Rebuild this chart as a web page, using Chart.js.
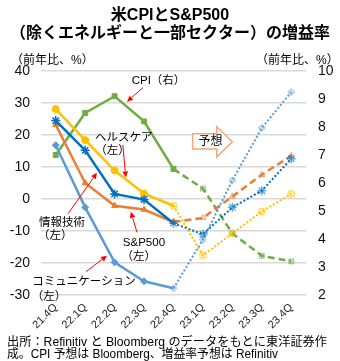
<!DOCTYPE html>
<html><head><meta charset="utf-8">
<script src="https://cdn.jsdelivr.net/npm/chart.js@4/dist/chart.umd.min.js"></script>
<style>html,body{margin:0;padding:0;background:#fff}canvas{display:block}</style>
</head><body>
<canvas id="c" width="340" height="361"></canvas>
<script>
// ---- data ----
const categories = ['21.4Q','22.1Q','22.2Q','22.3Q','22.4Q','23.1Q','23.2Q','23.3Q','23.4Q'];
const cpi           = [7.0, 8.5, 9.1, 8.2, 6.5, 5.8, 4.2, 3.4, 3.2];
const healthcare    = [28.1, 18.4, 8.9, 1.7, -2.1, -17.6, -10.7, -3.9, 1.6];
const infoTech      = [24.5, 15.2, 1.6, -0.2, -7.6, -11.0, -2.6, 2.6, 12.6];
const sp500         = [23.2, 5.0, -2.1, -3.3, -7.2, -5.9, 0.8, 7.6, 13.5];
const communication = [16.8, -2.6, -19.8, -25.7, -27.9, -12.7, 5.8, 22.2, 33.4];
const leftAxis  = [-30, 40, 10];   // min, max, step
const rightAxis = [2, 10, 1];
const forecastStart = 4;           // segments after this index are forecasts

const FONT = '"Liberation Sans", Arial, "Noto Sans CJK JP", sans-serif';
const JFONT = '"Liberation Sans", "Noto Sans CJK JP", sans-serif';

function pale(hex, a) {
  const n = parseInt(hex.slice(1), 16);
  return `rgba(${n>>16},${(n>>8)&255},${n&255},${a})`;
}
function series(label, data, color, axis, style, dash, width, radius, paleFrom) {
  return {
    label, data, yAxisID: axis,
    borderColor: color, borderWidth: width,
    pointStyle: style, pointRadius: radius, pointHoverRadius: radius,
    pointBackgroundColor: c => c.dataIndex >= paleFrom ? pale(color, 0.3) : color,
    pointBorderColor: c => c.dataIndex >= paleFrom ? pale(color, 0.6) : color,
    pointBorderWidth: style === 'star' ? 1.5 : 1,
    tension: 0, fill: false,
    segment: {
      borderDash: c => c.p0DataIndex >= forecastStart ? dash : undefined,
      borderWidth: c => c.p0DataIndex >= forecastStart ? (dash[0] > 3 ? 2.5 : 2) : width
    }
  };
}

const decor = {
  id: 'decor',
  afterDraw(chart) {
    const ctx = chart.ctx, xs = chart.scales.x, ys = chart.scales.y;
    const P = (i, v) => [xs.getPixelForValue(i), ys.getPixelForValue(v)];
    ctx.save();
    ctx.fillStyle = '#000';
    ctx.textBaseline = 'middle';
    // title
    ctx.font = 'bold 16px ' + JFONT;
    ctx.textAlign = 'center';
    ctx.fillText('米CPIとS&P500', 170, 16);
    ctx.fillText('（除くエネルギーと一部セクター）の増益率', 170, 34);
    // axis titles
    ctx.font = '12px ' + JFONT;
    ctx.textAlign = 'left';
    ctx.fillText('（前年比、%）', 11, 61);
    ctx.fillText('（前年比、%）', 256, 61);
    // footer
    const foot = [['出所：Refinitiv と Bloomberg のデータをもとに東洋証券作', 342.5, 320],
                  ['成。CPI 予想は Bloomberg、増益率予想は Refinitiv', 355, 271]];
    foot.forEach(([t, y, w]) => {
      const m = ctx.measureText(t).width;
      ctx.save();
      ctx.translate(7, y);
      ctx.scale(w / m, 1);
      ctx.fillText(t, 0, 0);
      ctx.restore();
    });
    // forecast arrow box
    const [rl, rt] = P(4.65, 20.4), [hl, rb] = P(5.47, 15.6);
    const [, ht] = P(0, 22.6), [, hb] = P(0, 13.1), [tip, my] = P(6.0, 17.9);
    ctx.beginPath();
    ctx.moveTo(rl, rt); ctx.lineTo(hl, rt); ctx.lineTo(hl, ht); ctx.lineTo(tip, my);
    ctx.lineTo(hl, hb); ctx.lineTo(hl, rb); ctx.lineTo(rl, rb); ctx.closePath();
    ctx.fillStyle = '#fff'; ctx.fill();
    ctx.strokeStyle = '#f4a67a'; ctx.lineWidth = 1.5; ctx.stroke();
    ctx.fillStyle = '#000';
    ctx.font = '12px ' + JFONT;
    ctx.textAlign = 'center';
    const [tx, ty] = P(5.26, 17.9);
    ctx.fillText('予想', tx, ty);
    // annotations
    ctx.font = '11.5px ' + JFONT;
    ctx.textAlign = 'left';
    const labels = [
      ['CPI（右）', 2.58, 37.0],
      ['ヘルスケア', 1.33, 19.2],
      ['情報技術', -0.57, -7.3],
      ['S&P500', 2.28, -13.7],
      ['コミュニケーション', -0.8, -25.8]
    ];
    labels.forEach(([t, i, v]) => { const [x, y] = P(i, v); ctx.fillText(t, x, y); });
    ctx.textAlign = 'center';
    const subs = [[1.93, 14.9], [-0.02, -11.6], [2.82, -18.0], [-0.23, -30.5]];
    subs.forEach(([i, v]) => { const [x, y] = P(i, v); ctx.fillText('（左）', x, y); });
    const arrows = [
      [2.96, 34.8, 2.42, 30.4],
      [2.28, 16.9, 2.38, 6.7],
      [0.42, -4.6, 1.4, 8.2],
      [2.76, -10.4, 2.55, -4.0],
      [1.03, -22.7, 1.74, -17.7]
    ];
    ctx.strokeStyle = '#ff0000'; ctx.fillStyle = '#ff0000'; ctx.lineWidth = 1;
    arrows.forEach(([i1, v1, i2, v2]) => {
      const [x1, y1] = P(i1, v1), [x2, y2] = P(i2, v2);
      const a = Math.atan2(y2 - y1, x2 - x1), L = 6, W = 2.8;
      const bx = x2 - L * Math.cos(a), by = y2 - L * Math.sin(a);
      ctx.beginPath(); ctx.moveTo(x1, y1); ctx.lineTo(bx, by); ctx.stroke();
      ctx.beginPath();
      ctx.moveTo(x2, y2);
      ctx.lineTo(bx + W * Math.sin(a), by - W * Math.cos(a));
      ctx.lineTo(bx - W * Math.sin(a), by + W * Math.cos(a));
      ctx.closePath(); ctx.fill();
    });
    ctx.restore();
  }
};

new Chart(document.getElementById('c'), {
  type: 'line',
  data: {
    labels: categories,
    datasets: [
      series('情報技術', infoTech, '#0070c0', 'y', 'star', [2, 2], 2.5, 4.5, 4),
      series('コミュニケーション', communication, '#5b9bd5', 'y', 'rectRot', [2, 2], 2.5, 3.5, 4),
      series('S&P500', sp500, '#ed7d31', 'y', 'triangle', [7, 4], 2.5, 3.5, 5),
      series('ヘルスケア', healthcare, '#ffc000', 'y', 'circle', [2, 2], 2.5, 3.5, 4),
      series('CPI', cpi, '#70ad47', 'y1', 'rect', [7, 4], 2.5, 3.5, 5)
    ]
  },
  options: {
    responsive: false, animation: false, devicePixelRatio: 1,
    layout: { padding: { top: 71, left: 0, right: 0, bottom: 0 } },
    plugins: { legend: { display: false }, tooltip: { enabled: false }, title: { display: false } },
    scales: {
      x: {
        offset: true,
        grid: { display: false, drawTicks: false },
        border: { display: false },
        ticks: { minRotation: 45, maxRotation: 45, padding: 6, color: '#222', font: { size: 11, family: FONT } },
        afterFit: s => { s.height = 66; }
      },
      y: {
        position: 'left', min: leftAxis[0], max: leftAxis[1],
        ticks: { stepSize: leftAxis[2], padding: 11, color: '#111', font: { size: 14, family: FONT } },
        grid: { color: '#d9d9d9', lineWidth: 1.5, drawTicks: false },
        border: { display: false },
        afterFit: s => { s.width = 41; }
      },
      y1: {
        position: 'right', min: rightAxis[0], max: rightAxis[1],
        ticks: { stepSize: rightAxis[2], padding: 12, color: '#111', font: { size: 14, family: FONT } },
        grid: { drawOnChartArea: false, drawTicks: false },
        border: { display: false },
        afterFit: s => { s.width = 34; }
      }
    }
  },
  plugins: [decor]
});
</script>
</body></html>
